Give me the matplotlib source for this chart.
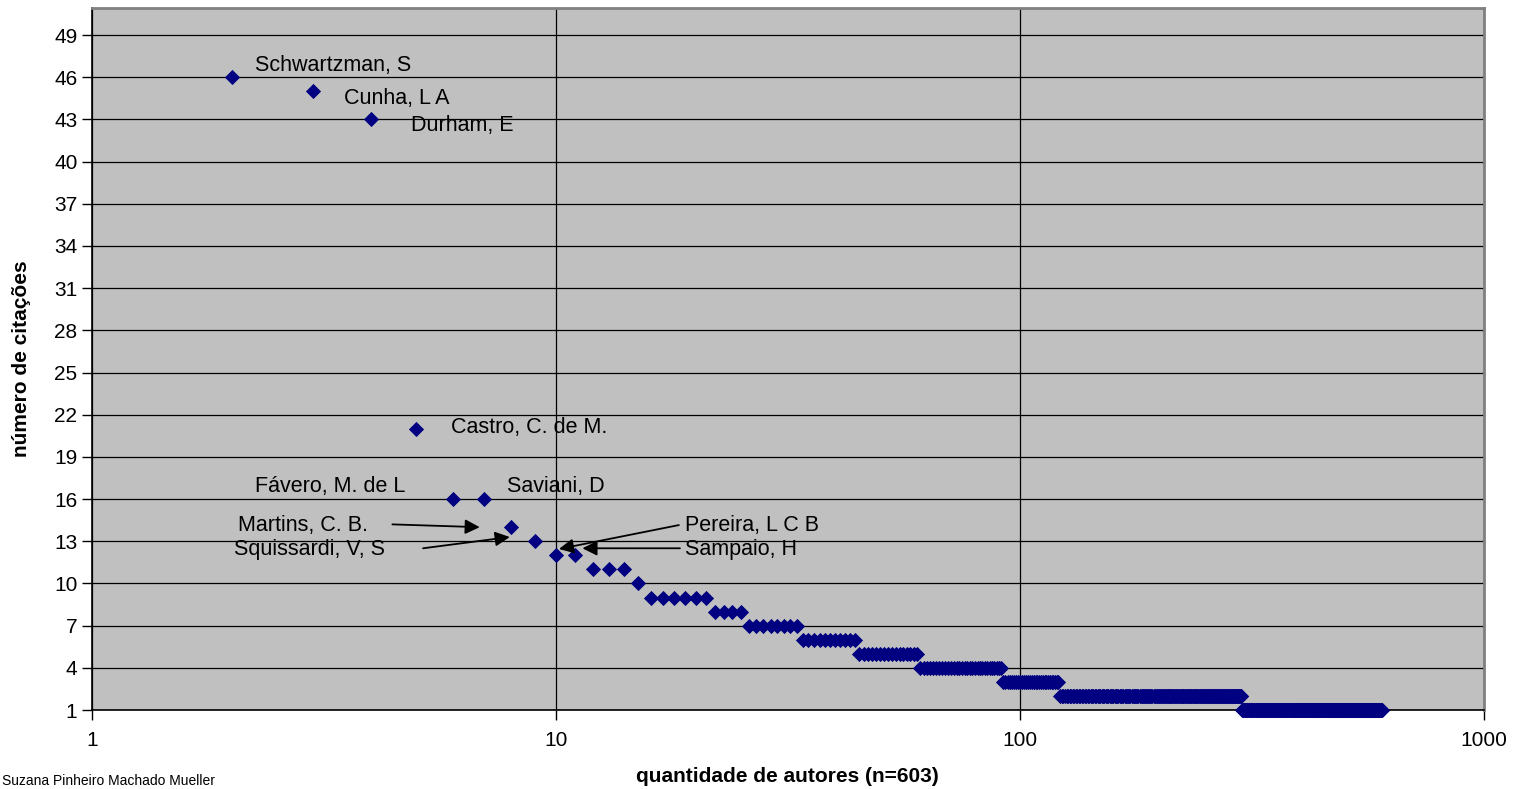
import numpy as np
import matplotlib.pyplot as plt

plt.rcParams['font.family'] = ['Liberation Sans', 'DejaVu Sans']

# número de citações e quantos autores têm esse número (ordem decrescente)
citacoes = [46, 45, 43, 21, 16, 14, 13, 12, 11, 10, 9, 8, 7, 6, 5, 4, 3, 2, 1]
n_autores = [1, 1, 1, 1, 2, 1, 1, 2, 3, 1, 6, 4, 8, 11, 16, 31, 30, 179, 303]
primeiro_rank = 2

y_ticks = list(range(1, 50, 3))
x_ticks = [1, 10, 100, 1000]
x_tick_labels = ['1', '10', '100', '1000']

# rótulos: (texto, x, y)
rotulos = [
    ('Schwartzman, S', 2.25, 46.8),
    ('Cunha, L A', 3.50, 44.5),
    ('Durham, E', 4.87, 42.6),
    ('Castro, C. de M.', 5.95, 21.1),
    ('Fávero, M. de L', 2.25, 16.9),
    ('Saviani, D', 7.85, 16.9),
]
# rótulos com seta: (texto, x texto, y texto, x inicio, y inicio, x ponta, y ponta)
setas = [
    ('Martins, C. B.', 2.06, 14.15, 4.44, 14.2, 6.85, 14.0),
    ('Squissardi, V, S', 2.02, 12.4, 5.17, 12.5, 7.95, 13.3),
    ('Pereira, L C B', 19.0, 14.15, 18.4, 14.15, 10.15, 12.45),
    ('Sampaio, H', 19.0, 12.4, 18.5, 12.5, 11.4, 12.5),
]

ranks = np.arange(primeiro_rank, primeiro_rank + sum(n_autores))
valores = np.repeat(citacoes, n_autores)

fig = plt.figure(figsize=(15.27, 7.89), dpi=100)
ax = fig.add_axes([92 / 1527, 79 / 789, 1392 / 1527, 702 / 789])
ax.set_facecolor('#C0C0C0')

ax.set_xscale('log')
ax.set_xlim(1, 1000)
ax.set_ylim(1, 50.92)

ax.scatter(ranks, valores, marker='D', s=60, color='#000080', linewidths=0, zorder=3, clip_on=False)

ax.set_yticks(y_ticks)
ax.set_xticks(x_ticks)
ax.set_xticklabels(x_tick_labels)
ax.minorticks_off()
ax.tick_params(axis='both', labelsize=15, direction='out', length=7, width=1, color='black')
ax.tick_params(axis='x', pad=8)
ax.grid(True, color='black', linewidth=0.9, zorder=1)
ax.set_axisbelow(True)

for lado in ['left', 'bottom']:
    ax.spines[lado].set_color('black')
    ax.spines[lado].set_linewidth(1.2)
for lado in ['top', 'right']:
    ax.spines[lado].set_color('#808080')
    ax.spines[lado].set_linewidth(2)

for texto, x, y in rotulos:
    ax.text(x, y, texto, fontsize=15.5, va='center', ha='left', zorder=4)

for texto, xt, yt, x0, y0, x1, y1 in setas:
    ax.text(xt, yt, texto, fontsize=15.5, va='center', ha='left', zorder=4)
    ax.annotate('', xy=(x1, y1), xytext=(x0, y0),
                arrowprops=dict(arrowstyle='-|>', color='black', lw=1.3,
                                mutation_scale=22, shrinkA=0, shrinkB=0),
                zorder=4)

fig.text(787 / 1527, 1 - 777 / 789, 'quantidade de autores (n=603)', fontsize=15,
         fontweight='bold', ha='center', va='center')
fig.text(22 / 1527, 1 - 359 / 789, 'número de citações', fontsize=15, fontweight='bold',
         rotation=90, ha='center', va='center')
fig.text(2 / 1527, 1 / 789, 'Suzana Pinheiro Machado Mueller', fontsize=10,
         ha='left', va='bottom')

fig.savefig('out.png', dpi=100)
